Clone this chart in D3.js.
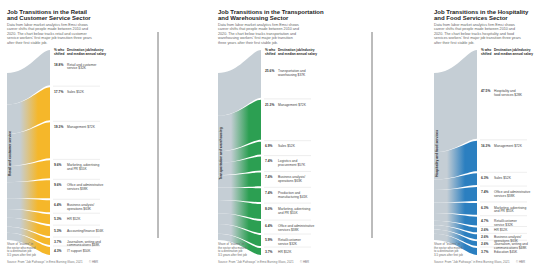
<!DOCTYPE html>
<html>
<head>
<meta charset="utf-8">
<script src="https://cdn.jsdelivr.net/npm/d3@7"></script>
<style>
  html, body { margin: 0; padding: 0; background: #fff; }
  svg { display: block; font-family: "Liberation Sans", Arial, sans-serif; }
</style>
</head>
<body>
<div id="chart"></div>
<script>
//
// Data
//
var retailCats = ["Retail and customer\nservice", "Sales", "Management", "Marketing, advertising\nand PR",
    "Office and administrative\nservices", "Business analysis/\noperations", "HR", "Accounting/finance",
    "Journalism, writing and\ncommunications", "IT support"];
var retailShares = [18.8, 17.7, 19.3, 9.6, 9.6, 6.4, 5.3, 5.3, 3.7, 4.3];
var retailSalary = ["$32K", "$52K", "$72K", "$55K", "$38K", "$63K", "$52K", "$56K", "$48K", "$50K"];

var transCats = ["Transportation and\nwarehousing", "Management", "Sales", "Logistics and\nprocurement",
    "Business analysis/\noperations", "Production and\nmanufacturing", "Marketing, advertising\nand PR",
    "Office and administrative\nservices", "Retail/customer\nservice", "HR"];
var transShares = [25.6, 21.3, 6.9, 7.4, 7.4, 7.4, 8.0, 6.4, 5.9, 3.7];
var transSalary = ["$37K", "$72K", "$52K", "$57K", "$63K", "$41K", "$55K", "$38K", "$32K", "$52K"];

var hospCats = ["Hospitality and\nfood services", "Management", "Sales", "Office and administrative\nservices",
    "Marketing, advertising\nand PR", "Retail/customer\nservice", "HR", "Business analysis/\noperations",
    "Journalism, writing and\ncommunications", "Education"];
var hospShares = [47.5, 16.3, 6.3, 7.4, 6.3, 4.7, 2.6, 2.6, 2.6, 3.7];
var hospSalary = ["$28K", "$72K", "$52K", "$38K", "$55K", "$32K", "$52K", "$63K", "$48K", "$45K"];

var titles = [
    ["Job Transitions in the Retail", "and Customer Service Sector"],
    ["Job Transitions in the Transportation", "and Warehousing Sector"],
    ["Job Transitions in the Hospitality", "and Food Services Sector"]
];
var descs = [
    ["Data from labor market analytics firm Emsi shows", "career shifts that people made between 2010 and",
     "2020. The chart below tracks retail and customer", "service workers' first major job transition three years",
     "after their first stable job."],
    ["Data from labor market analytics firm Emsi shows", "career shifts that people made between 2010 and",
     "2020. The chart below tracks transportation and", "warehousing workers' first major job transition",
     "three years after their first stable job."],
    ["Data from labor market analytics firm Emsi shows", "career shifts that people made between 2010 and",
     "2020. The chart below tracks hospitality and food", "services workers' first major job transition three years",
     "after their first stable job."]
];
var sources = ["Retail and customer service", "Transportation and warehousing", "Hospitality and food services"];

var panels = [
    {ox: 0,   cats: retailCats, shares: retailShares, salary: retailSalary, color: "#f5b72a"},
    {ox: 211, cats: transCats,  shares: transShares,  salary: transSalary,  color: "#2c9f52"},
    {ox: 427, cats: hospCats,   shares: hospShares,   salary: hospSalary,   color: "#2b7fc0"}
];

var width = 540, height = 268,
    grey = "#c5ced5",
    destTop = 50, destBottom = 255, gap = 2,
    srcTop = 73, srcBottom = 240;

var svg = d3.select("#chart").append("svg")
    .attr("width", width)
    .attr("height", height);

var defs = svg.append("defs");

// panel separators
[158, 372].forEach(function(x) {
    svg.append("line")
        .attr("x1", x).attr("x2", x)
        .attr("y1", 32).attr("y2", 238)
        .attr("stroke", "#555").attr("stroke-width", 0.8);
});

panels.forEach(function(p, pi) {
    var g = svg.append("g").attr("transform", "translate(" + p.ox + ",0)");
    var x0 = 7, x1 = 50, w = x1 - x0;

    var total = d3.sum(p.shares);
    var n = p.shares.length;
    var hDest = d3.scaleLinear().domain([0, total]).range([0, destBottom - destTop - gap * (n - 1)]);
    var hSrc = d3.scaleLinear().domain([0, total]).range([0, srcBottom - srcTop]);

    var rows = [];
    var dy = destTop, sy = srcTop;
    p.shares.forEach(function(v, i) {
        var r = {i: i, v: v, d0: dy, d1: dy + hDest(v), s0: sy, s1: sy + hSrc(v)};
        rows.push(r);
        dy = r.d1 + gap;
        sy = r.s1;
    });

    // gradient (user space of the translated group)
    var gid = "grad" + pi;
    var grad = defs.append("linearGradient")
        .attr("id", gid)
        .attr("gradientUnits", "userSpaceOnUse")
        .attr("x1", x0).attr("x2", x1)
        .attr("y1", 0).attr("y2", 0);
    grad.append("stop").attr("offset", 0).attr("stop-color", grey);
    grad.append("stop").attr("offset", 0.3).attr("stop-color", grey);
    grad.append("stop").attr("offset", 0.72).attr("stop-color", p.color);
    grad.append("stop").attr("offset", 1).attr("stop-color", p.color);

    function flow(r) {
        var c1 = x0 + w * 0.5, c2 = x1 - w * 0.22;
        return "M" + x0 + "," + r.s0 +
            "C" + c1 + "," + r.s0 + " " + c2 + "," + r.d0 + " " + x1 + "," + r.d0 +
            "L" + x1 + "," + r.d1 +
            "C" + c2 + "," + r.d1 + " " + c1 + "," + r.s1 + " " + x0 + "," + r.s1 + "Z";
    }

    g.selectAll(".flow")
        .data(rows)
        .enter().append("path")
        .attr("class", "flow")
        .attr("d", flow)
        .attr("fill", function(d) { return d.i == 0 ? grey : "url(#" + gid + ")"; });

    // source label
    g.append("text")
        .attr("transform", "translate(" + (x0 + 4.3) + "," + ((srcTop + srcBottom) / 2 - 3) + ") rotate(-90)")
        .attr("text-anchor", "middle")
        .attr("font-size", 3.4)
        .attr("font-weight", "bold")
        .attr("fill", "#333")
        .text(sources[pi]);

    // title + description
    g.append("text").attr("x", 7).attr("y", 13.5)
        .attr("font-size", 6).attr("font-weight", "bold").attr("fill", "#222")
        .text(titles[pi][0]);
    g.append("text").attr("x", 7).attr("y", 20.3)
        .attr("font-size", 6).attr("font-weight", "bold").attr("fill", "#222")
        .text(titles[pi][1]);
    descs[pi].forEach(function(line, i) {
        g.append("text").attr("x", 7).attr("y", 25.8 + i * 4.5)
            .attr("font-size", 3.7).attr("fill", "#666")
            .text(line);
    });

    // header
    [["% who", "shifted", 54], ["Destination job/industry", "and median annual salary", 67]].forEach(function(h) {
        g.append("text").attr("x", h[2]).attr("y", 51)
            .attr("font-size", 3.2).attr("font-weight", "bold").attr("fill", "#222").text(h[0]);
        g.append("text").attr("x", h[2]).attr("y", 54.6)
            .attr("font-size", 3.2).attr("font-weight", "bold").attr("fill", "#222").text(h[1]);
    });

    // row separators
    g.selectAll(".sep")
        .data(rows.slice(1))
        .enter().append("line")
        .attr("x1", 53).attr("x2", 100)
        .attr("y1", function(d) { return d.d0 - 1; })
        .attr("y2", function(d) { return d.d0 - 1; })
        .attr("stroke", "#ddd").attr("stroke-width", 0.5);

    // row labels
    rows.forEach(function(r) {
        var h = r.d1 - r.d0;
        var yy = r.i == 0 ? (r.d0 + r.d1) / 2 - 2 : r.d0 + Math.min(h / 2, 4.5) + 1.2;
        g.append("text").attr("x", 54).attr("y", yy)
            .attr("font-size", 3.3).attr("font-weight", "bold").attr("fill", "#333")
            .text(r.v.toFixed(1) + "%");
        var lines = (p.cats[r.i] + " " + p.salary[r.i]).split("\n");
        lines.forEach(function(l, li) {
            g.append("text").attr("x", 67).attr("y", yy + li * 3.8)
                .attr("font-size", 3.3).attr("fill", "#444")
                .text(l);
        });
    });

    // footnote
    ["Share of \u201cleavers\u201d in", "the sector who moved", "to a destination job", "3-5 years after first job"].forEach(function(l, i) {
        g.append("text").attr("x", 7).attr("y", 245 + i * 3.6)
            .attr("font-size", 2.9).attr("fill", "#666").text(l);
    });
    g.append("text").attr("x", 7).attr("y", 262.5)
        .attr("font-size", 2.9).attr("fill", "#777")
        .text("Source: From \u201cJob Pathways\u201d in Emsi Burning Glass, 2021");
    g.append("text").attr("x", 98).attr("y", 262.5)
        .attr("text-anchor", "end")
        .attr("font-size", 2.9).attr("fill", "#777")
        .text("\u00a9 HBR");
});
</script>
</body>
</html>
